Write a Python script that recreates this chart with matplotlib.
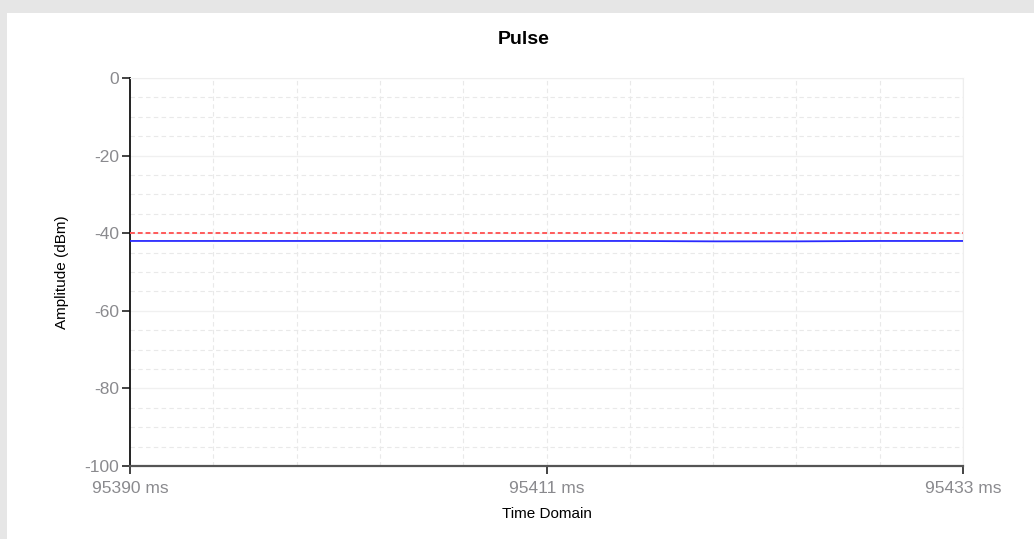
import numpy as np
import matplotlib
matplotlib.use('Agg')
import matplotlib.pyplot as plt
from matplotlib.ticker import FuncFormatter, MultipleLocator

# data
time_ms = [95390, 95394.3, 95398.6, 95402.9, 95407.2, 95411.5, 95415.8, 95420.1, 95424.4, 95428.7, 95433]
amplitude = [-42.0, -42.0, -42.0, -42.0, -42.0, -42.0, -42.0, -42.1, -42.1, -42.0, -42.0]
threshold = [-40.0] * len(time_ms)
x_limits = [95390, 95433]
y_limits = [-100, 0]


def main():
    plt.rcParams['font.family'] = ['Liberation Sans', 'DejaVu Sans']
    plt.rcParams['axes.unicode_minus'] = False

    fig = plt.figure(figsize=(10.34, 5.39), dpi=100, facecolor='#e6e6e6')
    # white chart panel
    fig.patches.append(plt.Rectangle((7 / 1034, 0), 1.0, 1 - 13 / 539,
                                     transform=fig.transFigure, facecolor='white',
                                     edgecolor='none', zorder=-10))

    ax = fig.add_axes([130 / 1034, 1 - 466 / 539, 833 / 1034, 388 / 539])
    ax.set_facecolor('white')

    ax.plot(time_ms, threshold, color='#ff5a5a', lw=1.4, ls=(0, (2.5, 1.5)), zorder=3)
    ax.plot(time_ms, amplitude, color='#2a2aff', lw=1.3, zorder=4)

    ax.set_xlim(x_limits)
    ax.set_ylim(y_limits)

    # grid
    xs = np.linspace(x_limits[0], x_limits[1], 11)
    for x in xs[1:-1]:
        ax.axvline(x, color='#e9e9e9', lw=0.8, ls=(0, (4, 3)), zorder=1)
    ax.axvline(xs[-1], color='#eeeeee', lw=1.0, zorder=1)
    for y in range(-95, 1, 5):
        if y % 20 == 0:
            ax.axhline(y, color='#f0f0f0', lw=1.0, zorder=1)
        else:
            ax.axhline(y, color='#e9e9e9', lw=0.8, ls=(0, (4, 3)), zorder=1)

    ax.yaxis.set_major_locator(MultipleLocator(20))
    ax.set_xticks([x_limits[0], (x_limits[0] + x_limits[1]) / 2, x_limits[1]])
    ax.xaxis.set_major_formatter(FuncFormatter(lambda v, p: '%d ms' % int(v)))

    ax.tick_params(axis='both', colors='#222222', labelcolor='#8a8a8e',
                   labelsize=12.5, length=6, width=1.2, pad=2)
    ax.tick_params(axis='x', pad=5)

    ax.spines['top'].set_color('#eeeeee')
    ax.spines['right'].set_color('#eeeeee')
    ax.spines['left'].set_color('#111111')
    ax.spines['left'].set_linewidth(1.3)
    ax.spines['bottom'].set_color('#555555')
    ax.spines['bottom'].set_linewidth(1.6)

    ax.set_ylabel('Amplitude (dBm)', fontsize=11, labelpad=11)
    ax.set_xlabel('Time Domain', fontsize=11, labelpad=8)

    fig.text(524 / 1034, 1 - 40 / 539, 'Pulse', ha='center', va='center',
             fontsize=14, fontweight='bold')

    fig.savefig('out.png', dpi=100, facecolor=fig.get_facecolor())


if __name__ == '__main__':
    main()
